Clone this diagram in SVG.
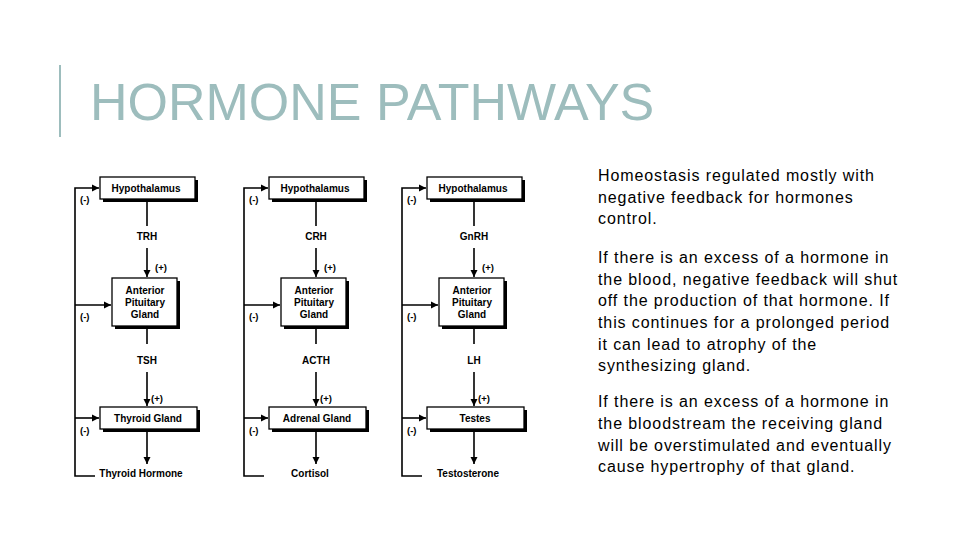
<svg xmlns="http://www.w3.org/2000/svg" width="960" height="540" viewBox="0 0 960 540">
<style>
.b{fill:#fff;stroke:#000;stroke-width:1.3}
.s{fill:#000}
.l{font-family:"Liberation Sans",Arial,sans-serif;font-weight:bold;font-size:10px;text-anchor:middle}
.m{font-family:"Liberation Sans",Arial,sans-serif;font-weight:bold;font-size:9.5px}
.c{fill:none;stroke:#000;stroke-width:1.6}
.t{font-family:"Liberation Sans",Arial,sans-serif;font-size:16px;letter-spacing:0.9px;fill:#000}
</style>
<defs>
<marker id="a" viewBox="0 0 10 10" refX="10" refY="5" markerWidth="7" markerHeight="8" orient="auto" markerUnits="userSpaceOnUse"><path d="M0,0L10,5L0,10z"/></marker>
<g id="col">
<g id="conn">
<path class="c" d="M147,199V226"/>
<path class="c" d="M147,248V277" marker-end="url(#a)"/>
<path class="c" d="M147,326V344"/>
<path class="c" d="M147,372V406" marker-end="url(#a)"/>
<path class="c" d="M147,429V464" marker-end="url(#a)"/>
<path class="c" d="M95,476H75V188H99" marker-end="url(#a)"/>
<path class="c" d="M75,305H111" marker-end="url(#a)"/>
<path class="c" d="M75,418H99" marker-end="url(#a)"/>
</g>
<rect class="s" x="103" y="180" width="95" height="22"/>
<rect class="b" x="100" y="177" width="95" height="22"/>
<rect class="s" x="115" y="281" width="65" height="48"/>
<rect class="b" x="112" y="278" width="65" height="48"/>
<rect class="s" x="103" y="410" width="97" height="22"/>
<rect class="b" x="100" y="407" width="97" height="22"/>
<text class="m" x="80" y="203">(-)</text>
<text class="m" x="80" y="320">(-)</text>
<text class="m" x="80" y="434">(-)</text>
<text class="m" x="155" y="271">(+)</text>
<text class="m" x="151" y="402">(+)</text>
</g>
</defs>
<rect width="960" height="540" fill="#fff"/>
<rect x="59" y="65" width="2" height="72" fill="#9DBDBD"/>
<text x="90" y="120" font-family="'Liberation Sans',Arial,sans-serif" font-size="52" fill="#9DBDBD">HORMONE PATHWAYS</text>
<g id="thyroid">
<use href="#col"/>
<text class="l" x="146" y="192">Hypothalamus</text>
<text class="l" x="147" y="240">TRH</text>
<text class="l" x="145" y="294">Anterior</text><text class="l" x="145" y="306">Pituitary</text><text class="l" x="145" y="318">Gland</text>
<text class="l" x="147" y="364">TSH</text>
<text class="l" x="148" y="422">Thyroid Gland</text>
<text class="l" x="141" y="477">Thyroid Hormone</text>
</g>
<g id="adrenal" transform="translate(169,0)">
<use href="#col"/>
<text class="l" x="146" y="192">Hypothalamus</text>
<text class="l" x="147" y="240">CRH</text>
<text class="l" x="145" y="294">Anterior</text><text class="l" x="145" y="306">Pituitary</text><text class="l" x="145" y="318">Gland</text>
<text class="l" x="147" y="364">ACTH</text>
<text class="l" x="148" y="422">Adrenal Gland</text>
<text class="l" x="141" y="477">Cortisol</text>
</g>
<g id="testes" transform="translate(327,0)">
<use href="#col"/>
<text class="l" x="146" y="192">Hypothalamus</text>
<text class="l" x="147" y="240">GnRH</text>
<text class="l" x="145" y="294">Anterior</text><text class="l" x="145" y="306">Pituitary</text><text class="l" x="145" y="318">Gland</text>
<text class="l" x="147" y="364">LH</text>
<text class="l" x="148" y="422">Testes</text>
<text class="l" x="141" y="477">Testosterone</text>
</g>
<g id="text">
<text class="t" x="598" y="181">Homeostasis regulated mostly with</text>
<text class="t" x="598" y="203">negative feedback for hormones</text>
<text class="t" x="598" y="224">control.</text>
<text class="t" x="598" y="263">If there is an excess of a hormone in</text>
<text class="t" x="598" y="285">the blood, negative feedback will shut</text>
<text class="t" x="598" y="306">off the production of that hormone.  If</text>
<text class="t" x="598" y="328">this continues for a prolonged period</text>
<text class="t" x="598" y="350">it can lead to atrophy of the</text>
<text class="t" x="598" y="371">synthesizing gland.</text>
<text class="t" x="598" y="407">If there is an excess of a hormone in</text>
<text class="t" x="598" y="429">the bloodstream the receiving gland</text>
<text class="t" x="598" y="451">will be overstimulated and eventually</text>
<text class="t" x="598" y="472">cause hypertrophy of that gland.</text>
</g>
</svg>
